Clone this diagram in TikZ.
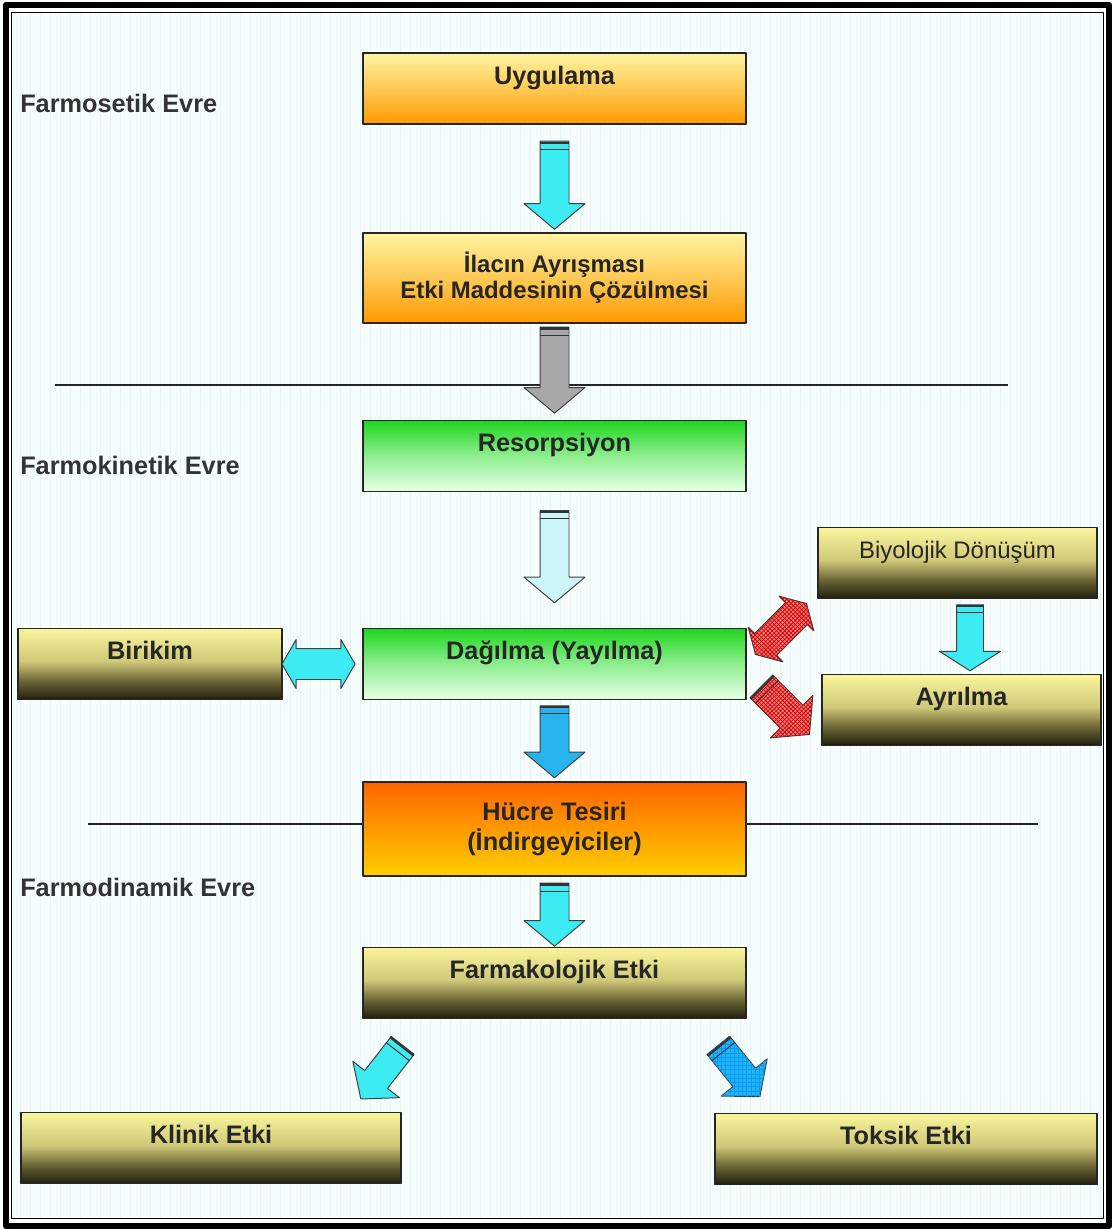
\documentclass[tikz,border=0pt]{standalone}
\usepackage{fontspec}
\setmainfont{Liberation Sans}
\usetikzlibrary{shapes.arrows,patterns,calc}
\definecolor{paper}{HTML}{F6FDFD}
\definecolor{gridline}{HTML}{ECF6F6}
\definecolor{cyanarr}{HTML}{3DEBF2}
\definecolor{palearr}{HTML}{CCF5FA}
\definecolor{grayarr}{HTML}{A8A8A8}
\definecolor{bluearr}{HTML}{27B4EE}
\definecolor{redarr}{HTML}{FF7373}
\definecolor{goldtop}{HTML}{FAF59D}
\definecolor{goldmid}{HTML}{CFC878}
\definecolor{goldlow}{HTML}{6B6535}
\definecolor{goldbot}{HTML}{201D0C}
\definecolor{greentop}{HTML}{1FD61F}
\definecolor{greenmid}{HTML}{8EEE8E}
\definecolor{greenbot}{HTML}{E8FFE8}
\definecolor{ambertop}{HTML}{FFF4A0}
\definecolor{ambermid}{HTML}{FFC955}
\definecolor{amberbot}{HTML}{FF9A00}
\definecolor{firetop}{HTML}{FF6400}
\definecolor{firebot}{HTML}{FFCF00}
\pgfdeclareverticalshading{goldfade}{100bp}{color(0bp)=(goldbot); color(25bp)=(goldbot); color(38bp)=(goldlow); color(52bp)=(goldmid); color(75bp)=(goldtop); color(100bp)=(goldtop)}
\pgfdeclareverticalshading{greenfade}{100bp}{color(0bp)=(greenbot); color(25bp)=(greenbot); color(50bp)=(greenmid); color(75bp)=(greentop); color(100bp)=(greentop)}
\pgfdeclareverticalshading{amberfade}{100bp}{color(0bp)=(amberbot); color(25bp)=(amberbot); color(50bp)=(ambermid); color(75bp)=(ambertop); color(100bp)=(ambertop)}
\pgfdeclareverticalshading{firefade}{100bp}{color(0bp)=(firebot); color(25bp)=(firebot); color(75bp)=(firetop); color(100bp)=(firetop)}
% dark bands across the tail of a block arrow
\newcommand{\tailmarks}[1]{%
 \draw[line width=1.5pt,black!80] ($(#1.before tail)!1.3pt!(#1.after head)$) -- ($(#1.after tail)!1.3pt!(#1.before head)$);
 \draw[line width=0.7pt,black!80] ($(#1.before tail)!6pt!(#1.after head)$) -- ($(#1.after tail)!6pt!(#1.before head)$);}
\begin{document}
\begin{tikzpicture}[x=0.025cm,y=-0.025cm]
\tikzstyle{every path}=[line join=round]
\edef\colwd{9.575cm}
\tikzstyle{box}=[draw=black!85,line width=0.9pt,shade,inner xsep=0pt,text=black!85,font=\bfseries\fontsize{18}{21}\selectfont]
\tikzstyle{onebox}=[box,inner ysep=0pt,text height=0.78cm,text depth=1cm]
\tikzstyle{twobox}=[box,align=center,inner ysep=0pt]
\tikzstyle{phase}=[anchor=west,inner sep=0pt,text=black!80,font=\bfseries\fontsize{18}{20}\selectfont]
\tikzstyle{blockarr}=[single arrow,draw=black!75,line width=0.7pt,inner xsep=0pt,inner ysep=0.35cm,minimum width=1.5cm,single arrow head extend=0.4cm,single arrow tip angle=100,anchor=tail]
\tikzstyle{twinarr}=[double arrow,draw=black!75,line width=0.7pt,inner xsep=0pt,inner ysep=0.375cm,minimum width=1.2cm,double arrow head extend=0.225cm,double arrow tip angle=120]
\useasboundingbox (0,0) rectangle (1115,1230);
\fill[white] (0,0) rectangle (1115,1230);
\draw[line width=4.5pt] (6,5) rectangle (1109,1226);
\fill[paper] (11.5,12.5) rectangle (1103.5,1218.5);
\draw[gridline,line width=0.25pt,step=10] (12,13) grid (1103,1218);
\draw[line width=0.7pt] (11.5,12.5) rectangle (1103.5,1218.5);
% phase separators
\draw[line width=0.8pt,black!85] (55,385) -- (1008,385);
\draw[line width=0.8pt,black!85] (88,824) -- (1038,824);
\node[phase] (ph1) at (20,103) {Farmosetik Evre};
\node[phase] (ph2) at (20,465) {Farmokinetik Evre};
\node[phase] (ph3) at (20,887) {Farmodinamik Evre};
% boxes
\node[onebox,shading=amberfade,minimum width=\colwd] (uyg) at (554.5,88.5) {Uygulama};
\node[twobox,shading=amberfade,minimum width=\colwd,minimum height=2.25cm,font=\bfseries\fontsize{17}{18.5}\selectfont] (ilac) at (554.5,278) {İlacın Ayrışması\\Etki Maddesinin Çözülmesi};
\node[onebox,shading=greenfade,minimum width=\colwd] (res) at (554.5,456) {Resorpsiyon};
\node[onebox,shading=greenfade,minimum width=\colwd] (dag) at (554.5,664) {Dağılma (Yayılma)};
\node[onebox,shading=goldfade,minimum width=6.6cm] (bir) at (150,664) {Birikim};
\node[onebox,shading=goldfade,minimum width=6.975cm,font=\fontsize{17}{20}\selectfont] (biy) at (957.5,563) {Biyolojik Dönüşüm};
\node[onebox,shading=goldfade,minimum width=6.975cm] (ayr) at (961.5,710) {Ayrılma};
\node[twobox,shading=firefade,minimum width=\colwd,minimum height=2.35cm] (huc) at (554.5,829) {Hücre Tesiri\\(İndirgeyiciler)};
\node[onebox,shading=goldfade,minimum width=\colwd] (farm) at (554.5,983) {Farmakolojik Etki};
\node[onebox,shading=goldfade,minimum width=9.5cm] (kli) at (211,1148) {Klinik Etki};
\node[onebox,shading=goldfade,minimum width=9.55cm] (tok) at (906,1149) {Toksik Etki};
% block arrows
\node[blockarr,rotate=-90,fill=cyanarr,minimum height=2.2cm] (a1) at ($(uyg.south)+(0,16)$) {};
\node[blockarr,rotate=-90,fill=grayarr,minimum height=2.15cm] (a2) at ($(ilac.south)+(0,3)$) {};
\node[blockarr,rotate=-90,fill=palearr,minimum height=2.3cm] (a3) at ($(res.south)+(0,18)$) {};
\node[blockarr,rotate=-90,fill=bluearr,minimum height=1.8cm] (a4) at ($(dag.south)+(0,5)$) {};
\node[blockarr,rotate=-90,fill=cyanarr,minimum height=1.575cm] (a5) at ($(huc.south)+(0,6)$) {};
\node[blockarr,rotate=-90,fill=cyanarr,minimum height=1.65cm,inner ysep=0.325cm,single arrow head extend=0.425cm,single arrow tip angle=115] (a6) at ($(biy.south)+(12.5,5)$) {};
\node[blockarr,rotate=-45,fill=redarr,postaction={pattern=crosshatch,pattern color=red!75!black},minimum height=1.7cm,inner ysep=0.38cm,single arrow head extend=0.34cm] (a7) at (761,686) {};
\node[blockarr,rotate=-128,fill=cyanarr,minimum height=1.7cm,minimum width=1.45cm,single arrow head extend=0.375cm] (a8) at (403,1045) {};
\node[blockarr,rotate=-51,fill=bluearr,postaction={pattern=grid,pattern color=blue!40!cyan},minimum height=1.65cm,minimum width=1.45cm,single arrow head extend=0.375cm] (a9) at (718,1045) {};
\foreach \n in {a1,a2,a3,a4,a5,a6,a7,a8,a9} {\tailmarks{\n}}
\node[twinarr,fill=cyanarr,minimum height=1.825cm] (d1) at ($(bir.east)!0.45!(dag.west)$) {};
\node[twinarr,rotate=45,fill=redarr,postaction={pattern=crosshatch,pattern color=red!75!black},minimum height=1.8cm] (d2) at (781,629) {};
\end{tikzpicture}
\end{document}
